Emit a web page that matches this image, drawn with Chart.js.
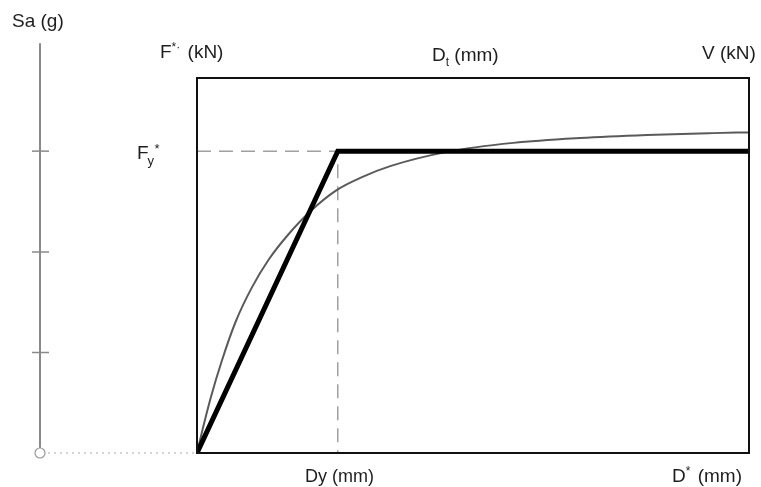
<!DOCTYPE html>
<html>
<head>
<meta charset="utf-8">
<script src="https://cdn.jsdelivr.net/npm/chart.js@4.4.1/dist/chart.umd.min.js"></script>
<style>
html,body{margin:0;padding:0;background:#fff;}
canvas{display:block;}
</style>
</head>
<body>
<canvas id="c" width="761" height="487"></canvas>
<script>
// Bilinear idealisation (D*, F*) in relative units (0-100)
const bilinearD = [0, 25.5, 100];
const bilinearF = [0, 80.5, 80.5];
// Capacity curve (Dt, V)
const capacityD = [0, 1, 2.5, 4.5, 7, 10, 13, 16.5, 20.5, 25.3, 30.1, 35, 45.3, 57.3, 69.4, 81.5, 93.5, 100];
const capacityV = [0, 6.2, 14.8, 24.6, 35.0, 44.3, 51.6, 58.2, 64.4, 70.1, 73.7, 76.5, 80.3, 82.7, 84.0, 84.8, 85.3, 85.5];
// Yield point
const yieldD = 25.5;
const yieldF = 80.5;
// Sa (g) axis ticks (same vertical units)
const saTicks = [0, 26.8, 53.6, 80.5];
const saAxisTop = 109.3;

const pts = (xs, ys) => xs.map((x, i) => ({x: x, y: ys[i]}));

const FONT = '"Liberation Sans", Arial, Helvetica, sans-serif';
const TXT = '#1e1e1e';

function drawRich(ctx, parts, x, y, size) {
  let cx = x;
  for (const p of parts) {
    let fs = size, dy = 0;
    if (p.m === 'sup') { fs = Math.round(size * 0.62); dy = -size * 0.38; }
    if (p.m === 'sub') { fs = Math.round(size * 0.62); dy = size * 0.25; }
    ctx.font = fs + 'px ' + FONT;
    ctx.fillText(p.t, cx, y + dy);
    cx += ctx.measureText(p.t).width + (p.gap || 0);
  }
}

const decor = {
  id: 'decor',
  afterDatasetsDraw(chart) {
    const ctx = chart.ctx;
    const a = chart.chartArea;
    const xs = chart.scales.x, ys = chart.scales.y;
    ctx.save();
    // frame
    ctx.strokeStyle = '#111';
    ctx.lineWidth = 2;
    ctx.strokeRect(a.left, a.top, a.right - a.left, a.bottom - a.top);

    // Sa axis
    const ax = 40;
    const y0 = ys.getPixelForValue(0);
    ctx.strokeStyle = '#8a8a8a';
    ctx.lineWidth = 2;
    ctx.beginPath();
    ctx.moveTo(ax, ys.getPixelForValue(saAxisTop));
    ctx.lineTo(ax, y0 - 5);
    ctx.stroke();
    ctx.lineWidth = 1.5;
    for (const t of saTicks) {
      if (t === 0) continue;
      const py = ys.getPixelForValue(t);
      ctx.beginPath();
      ctx.moveTo(ax - 8, py);
      ctx.lineTo(ax + 9, py);
      ctx.stroke();
    }
    // circle at origin
    ctx.fillStyle = '#fff';
    ctx.strokeStyle = '#999';
    ctx.lineWidth = 1.2;
    ctx.beginPath();
    ctx.arc(ax, y0, 5, 0, Math.PI * 2);
    ctx.fill();
    ctx.stroke();
    // dotted link to origin
    ctx.strokeStyle = '#c8c8c8';
    ctx.lineWidth = 1.5;
    ctx.setLineDash([2, 4]);
    ctx.beginPath();
    ctx.moveTo(ax + 8, y0);
    ctx.lineTo(xs.getPixelForValue(0) - 3, y0);
    ctx.stroke();
    ctx.setLineDash([]);

    // labels
    ctx.fillStyle = TXT;
    ctx.textBaseline = 'alphabetic';
    ctx.textAlign = 'left';
    drawRich(ctx, [{t: 'Sa (g)'}], 12, 27, 19);
    drawRich(ctx, [{t: 'F'}, {t: '*·', m: 'sup', gap: 2}, {t: ' (kN)'}], 160, 58, 19);
    drawRich(ctx, [{t: 'D'}, {t: 't', m: 'sub'}, {t: ' (mm)'}], 432, 61, 19);
    drawRich(ctx, [{t: 'V (kN)'}], 702, 59, 19);
    // F_y*
    ctx.font = '19px ' + FONT;
    ctx.fillText('F', 137, 159);
    const fw = ctx.measureText('F').width;
    ctx.font = '13px ' + FONT;
    ctx.fillText('y', 137 + fw - 1, 165);
    ctx.fillText('*', 137 + fw + 6, 153);
    drawRich(ctx, [{t: 'Dy (mm)'}], 305, 482, 18);
    drawRich(ctx, [{t: 'D'}, {t: '*', m: 'sup', gap: 2}, {t: ' (mm)'}], 672, 482, 19);
    ctx.restore();
  }
};

new Chart(document.getElementById('c'), {
  type: 'line',
  data: {
    datasets: [
      {
        label: 'Bilinear',
        data: pts(bilinearD, bilinearF),
        borderColor: '#000',
        borderWidth: 5,
        pointRadius: 0,
        tension: 0,
        borderJoinStyle: 'miter',
        order: 0
      },
      {
        label: 'Capacity curve',
        data: pts(capacityD, capacityV),
        borderColor: '#5a5a5a',
        borderWidth: 2,
        pointRadius: 0,
        cubicInterpolationMode: 'monotone',
        order: 1
      },
      {
        label: 'Yield guide',
        data: [{x: 0, y: yieldF}, {x: yieldD, y: yieldF}, {x: yieldD, y: 0}],
        borderColor: '#a0a0a0',
        borderWidth: 1.5,
        borderDash: [14, 8],
        pointRadius: 0,
        tension: 0,
        order: 2
      }
    ]
  },
  options: {
    responsive: false,
    devicePixelRatio: 1,
    animation: false,
    layout: {padding: {left: 197, right: 12, top: 78, bottom: 34}},
    scales: {
      x: {type: 'linear', min: 0, max: 100, display: false},
      y: {type: 'linear', min: 0, max: 100, display: false}
    },
    plugins: {legend: {display: false}, tooltip: {enabled: false}}
  },
  plugins: [decor]
});
</script>
</body>
</html>
